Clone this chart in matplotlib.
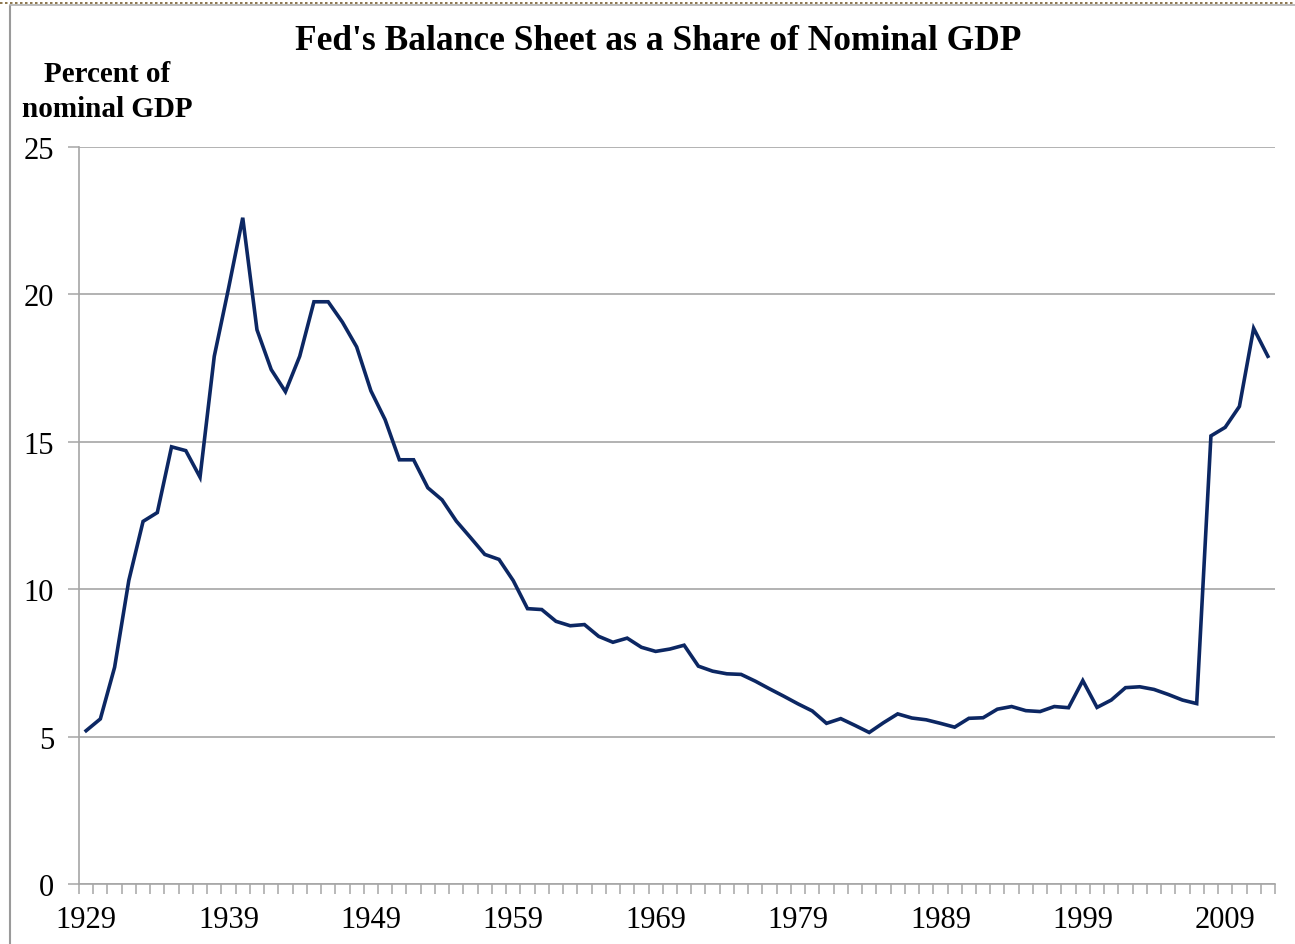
import matplotlib.pyplot as plt
from matplotlib.lines import Line2D
from matplotlib.ticker import FixedLocator, NullFormatter

# Fed balance sheet, percent of nominal GDP, 1929-2012
years = list(range(1929, 2013))
share = [
    5.2, 5.6, 7.35, 10.3, 12.3, 12.6, 14.83, 14.7, 13.8, 17.9,      # 1929-38
    20.2, 22.6, 18.8, 17.45, 16.7, 17.9, 19.75, 19.75, 19.06, 18.22,  # 1939-48
    16.73, 15.75, 14.39, 14.39, 13.44, 13.03, 12.31, 11.75, 11.18, 11.01,  # 1949-58
    10.29, 9.34, 9.31, 8.91, 8.76, 8.8, 8.4, 8.2, 8.34, 8.03,      # 1959-68
    7.89, 7.97, 8.1, 7.39, 7.22, 7.13, 7.11, 6.88, 6.62, 6.37,     # 1969-78
    6.11, 5.87, 5.45, 5.61, 5.38, 5.14, 5.47, 5.77, 5.63, 5.57,    # 1979-88
    5.45, 5.32, 5.62, 5.64, 5.93, 6.02, 5.88, 5.85, 6.02, 5.98,    # 1989-98
    6.9, 5.99, 6.24, 6.66, 6.69, 6.6, 6.43, 6.24, 6.12, 15.2,      # 1999-2008
    15.49, 16.2, 18.85, 17.9,                                      # 2009-12
]
year_labels = [str(y) for y in years if (y - 1929) % 10 == 0]

serif = ["Liberation Serif", "DejaVu Serif"]

fig = plt.figure(figsize=(12.95, 9.45), dpi=100)
ax = fig.add_axes([79 / 1295, 60 / 945, 1196 / 1295, 737 / 945])

x = list(range(len(years)))
ax.plot(x, share, color="#0c2763", lw=2.6, solid_joinstyle="miter", zorder=3)

ax.set_xlim(-0.5, len(years) - 0.5)
ax.set_ylim(0, 25)
ax.set_yticks([0, 5, 10, 15, 20, 25])
ax.yaxis.grid(True, color="#a6a6a6", lw=1.2)
ax.set_axisbelow(True)

# category boundaries get the small ticks, labels every ten years
ax.xaxis.set_major_locator(FixedLocator([i - 0.5 for i in range(len(years) + 1)]))
ax.xaxis.set_major_formatter(NullFormatter())
ax.xaxis.set_minor_locator(FixedLocator([i for i, y in enumerate(years) if (y - 1929) % 10 == 0]))
ax.set_xticklabels(year_labels, minor=True)
ax.tick_params(axis="x", which="major", length=7, width=1.1, color="#a6a6a6", direction="out")
ax.tick_params(axis="x", which="minor", length=0, pad=15)
ax.tick_params(axis="y", length=8, width=1.1, color="#a6a6a6", pad=10)

for lab in ax.get_xticklabels(minor=True) + ax.get_yticklabels():
    lab.set_family(serif)
    lab.set_fontsize(22)

for side in ["top", "right"]:
    ax.spines[side].set_visible(False)
for side in ["left", "bottom"]:
    ax.spines[side].set_color("#a6a6a6")
    ax.spines[side].set_linewidth(1.2)

fig.text(658 / 1295, 1 - 42 / 945, "Fed's Balance Sheet as a Share of Nominal GDP",
         ha="center", va="center", fontsize=25.5, fontweight="bold", family=serif)
fig.text(107 / 1295, 1 - 92 / 945, "Percent of\nnominal GDP", ha="center", va="center",
         fontsize=21, fontweight="bold", family=serif, linespacing=1.35)

# outer chart frame
fig.add_artist(Line2D([10 / 1295, 10 / 1295], [0, 1 - 7 / 945], transform=fig.transFigure,
                      color="#9a9a9a", lw=1.5))
fig.add_artist(Line2D([10 / 1295, 1], [1 - 6 / 945, 1 - 6 / 945], transform=fig.transFigure,
                      color="#b0b0b0", lw=1.2))
fig.add_artist(Line2D([0, 1], [1 - 4 / 945, 1 - 4 / 945], transform=fig.transFigure,
                      color="#7a6030", lw=1.2, ls=(0, (1.5, 1.5))))

fig.savefig("out.png", dpi=100)
